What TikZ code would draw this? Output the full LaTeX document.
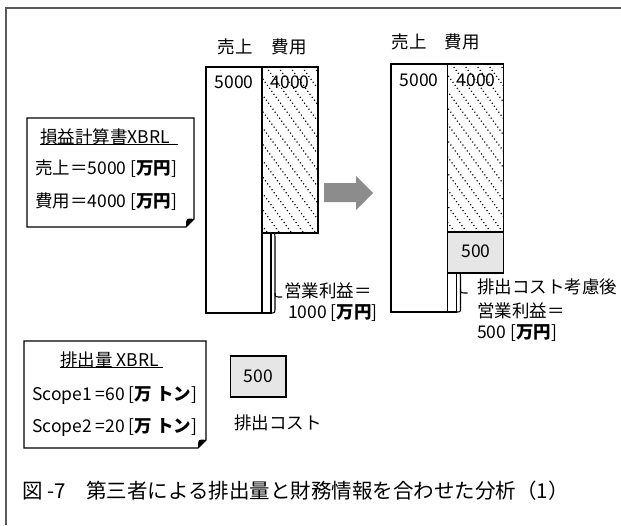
\documentclass[tikz,border=0pt]{standalone}
\usepackage{fontspec}
\setmainfont{Noto Sans CJK JP}
\definecolor{boxgray}{RGB}{230,230,230}
\definecolor{arrowgray}{RGB}{140,140,140}
\definecolor{framegray}{RGB}{90,90,90}
\tikzset{
  txt/.style={inner sep=0pt, font=\fontsize{17.5}{20}\selectfont},
  lbl/.style={txt, anchor=west},
  bar/.style={draw=black, line width=1.3pt, inner sep=0pt, outer sep=0pt, anchor=north west, fill=white},
  hatch/.style={bar, path picture={
      \foreach \k in {-260,-248,...,70} {
        \draw[line width=1.2pt, dash pattern=on 1.1pt off 2.6pt]
          ([xshift=\k pt]path picture bounding box.north west) -- ++(220pt,-300pt);
      }}},
  graybox/.style={bar, fill=boxgray},
  notebox/.style={draw=none, inner sep=0pt, outer sep=0pt, anchor=north west},
  noteline/.style={line width=1.4pt, line join=miter},
  brace/.style={line width=1.1pt},
}
\begin{document}
\begin{tikzpicture}[x=1pt,y=-1pt]
\useasboundingbox (0,0) rectangle (621,525);
% frame
\draw[framegray, line width=1.6pt] (5.8,525) -- (5.8,8) -- (621,8);

% ---------- left chart ----------
\node[txt] (l1s) at (235,47) {売上};
\node[txt] (l1c) at (289,47) {費用};
\node[bar, minimum width=56pt, minimum height=246pt] (s1) at (206,67) {};
\node[hatch, minimum width=56pt, minimum height=166pt] (c1) at (262,67) {};
\node[bar, minimum width=9pt, minimum height=80pt] (p1) at (262,233) {};
\node[txt] (v1s) at (234,82) {5000};
\node[txt] (v1c) at (290,82) {4000};
\draw[brace] (p1.north east) .. controls ([xshift=4pt]p1.north east) .. ([xshift=4pt,yshift=-6pt]p1.north east)
  -- ([xshift=4pt,yshift=-60pt]p1.north east) .. controls ([xshift=4pt,yshift=-64pt]p1.north east) .. ([xshift=11pt,yshift=-64pt]p1.north east);
\draw[brace] ([xshift=4pt,yshift=-60pt]p1.north east)
  .. controls ([xshift=4pt,yshift=-64pt]p1.north east) .. ([xshift=4pt,yshift=-68pt]p1.north east)
  -- ([xshift=4pt,yshift=6pt]p1.south east) .. controls ([xshift=4pt]p1.south east) .. (p1.south east);
\node[lbl] (op1a) at (284,291) {営業利益＝};
\node[lbl] (op1b) at (288,313) {1000 [{\bfseries 万円}]};

% ---------- arrow ----------
\fill[arrowgray] (324,183) -- (356,183) -- (356,176) -- (373,193) -- (356,210) -- (356,202) -- (324,202) -- cycle;

% ---------- right chart ----------
\node[txt] (l2s) at (409,42) {売上};
\node[txt] (l2c) at (462,42) {費用};
\node[bar, minimum width=56.5pt, minimum height=248pt] (s2) at (391,64) {};
\node[hatch, minimum width=56pt, minimum height=168pt] (c2) at (447.5,64) {};
\node[graybox, minimum width=56pt, minimum height=41pt] (g2) at (447.5,232) {};
\node[bar, minimum width=9pt, minimum height=39pt] (p2) at (447.5,273) {};
\node[txt] (v2s) at (419,80) {5000};
\node[txt] (v2c) at (476,80) {4000};
\node[txt] (v2g) at (476,251) {500};
\draw[brace] (p2.north east) .. controls ([xshift=4pt]p2.north east) .. ([xshift=4pt,yshift=-5pt]p2.north east)
  -- ([xshift=4pt,yshift=-16pt]p2.north east) .. controls ([xshift=4pt,yshift=-20pt]p2.north east) .. ([xshift=11pt,yshift=-20pt]p2.north east);
\draw[brace] ([xshift=4pt,yshift=-16pt]p2.north east)
  .. controls ([xshift=4pt,yshift=-20pt]p2.north east) .. ([xshift=4pt,yshift=-24pt]p2.north east)
  -- ([xshift=4pt,yshift=5pt]p2.south east) .. controls ([xshift=4pt]p2.south east) .. (p2.south east);
\node[lbl] (op2a) at (477,287) {排出コスト考慮後};
\node[lbl] (op2b) at (477,311) {営業利益＝};
\node[lbl] (op2c) at (477,333) {500 [{\bfseries 万円}]};

% ---------- note box 1 ----------
\node[notebox, minimum width=167pt, minimum height=109pt] (n1) at (27,118) {};
\draw[noteline] (n1.north west) -- (n1.north east) -- ([yshift=8pt]n1.south east)
  -- ([xshift=-8pt]n1.south east) -- (n1.south west) -- cycle;
\fill ([yshift=8pt]n1.south east) .. controls ([xshift=-8pt,yshift=9pt]n1.south east) .. ([xshift=-8pt]n1.south east) -- cycle;
\node[lbl] (n1t) at (40,137) {損益計算書XBRL};
\draw[line width=0.9pt] ([yshift=-7.5pt]n1t.west) -- ++(138pt,0pt);
\node[lbl] (n1a) at (35,169) {売上＝5000 [{\bfseries 万円}]};
\node[lbl] (n1b) at (35,202) {費用＝4000 [{\bfseries 万円}]};

% ---------- note box 2 ----------
\node[notebox, minimum width=182pt, minimum height=107pt] (n2) at (24,341) {};
\draw[noteline] (n2.north west) -- (n2.north east) -- ([yshift=8pt]n2.south east)
  -- ([xshift=-8pt]n2.south east) -- (n2.south west) -- cycle;
\fill ([yshift=8pt]n2.south east) .. controls ([xshift=-8pt,yshift=9pt]n2.south east) .. ([xshift=-8pt]n2.south east) -- cycle;
\node[lbl] (n2t) at (60,360) {排出量 XBRL};
\draw[line width=0.9pt] ([yshift=-7.5pt]n2t.west) -- ++(103pt,0pt);
\node[lbl] (n2a) at (32,395) {Scope1 =60 [{\bfseries 万 トン}]};
\node[lbl] (n2b) at (32,427) {Scope2 =20 [{\bfseries 万 トン}]};

% ---------- emission cost ----------
\node[graybox, minimum width=55.5pt, minimum height=41pt] (ec) at (230.5,356) {};
\node[txt] (ecv) at (ec.center) {500};
\node[lbl] (ecl) at (234,423) {排出コスト};

% ---------- caption ----------
\node[lbl, font=\fontsize{20.5}{24}\selectfont] (cap) at (22,491) {図 -7　第三者による排出量と財務情報を合わせた分析（1）};
\end{tikzpicture}
\end{document}
